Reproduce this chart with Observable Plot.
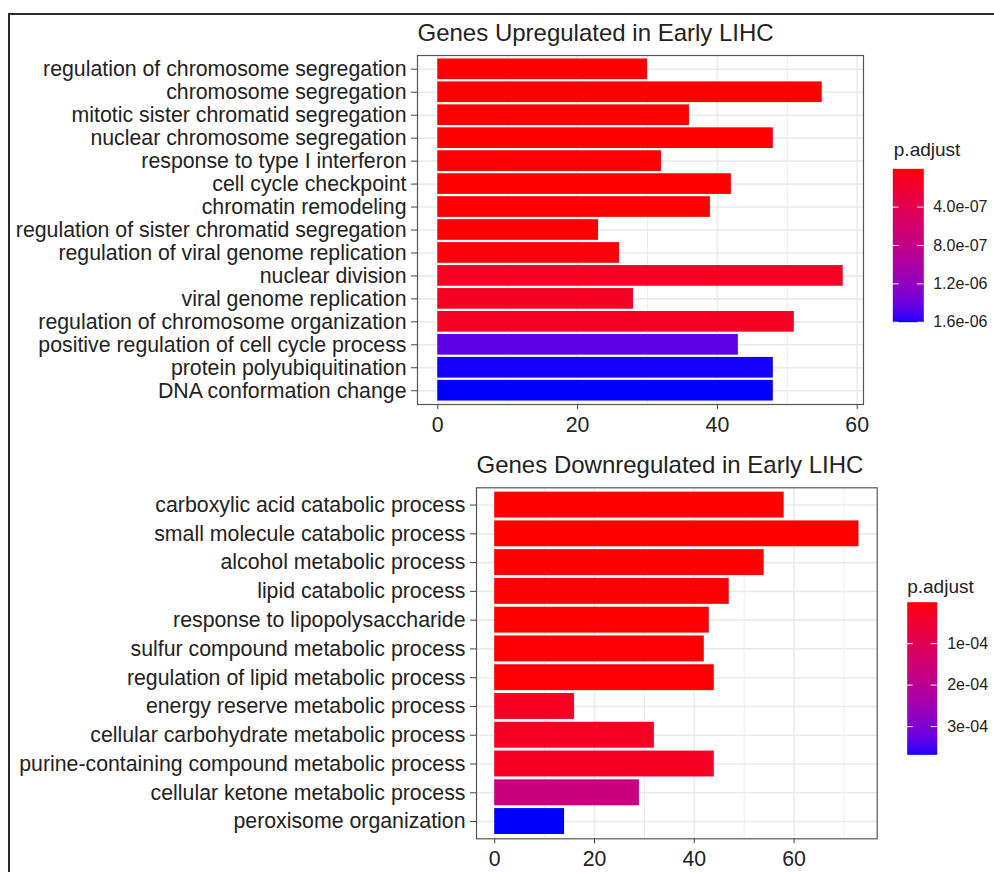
<!DOCTYPE html>
<html>
<head>
<meta charset="utf-8">
<script src="https://cdn.jsdelivr.net/npm/d3@7"></script>
<script src="https://cdn.jsdelivr.net/npm/@observablehq/plot@0.6"></script>
<style>
  html, body { margin: 0; padding: 0; background: white; }
  #wrap { position: relative; width: 994px; height: 872px; overflow: hidden; background: white;
          font-family: 'Liberation Sans', Arial, sans-serif; }
  #frame { position: absolute; left: 8px; top: 13px; width: 1000px; height: 900px;
           border-top: 2px solid #2b2b2b; border-left: 2px solid #2b2b2b; }
  .abs { position: absolute; }
</style>
</head>
<body>
<div id="wrap"><div id="frame"></div></div>
<script>
// ---------------- data ----------------
const upTitle = "Genes Upregulated in Early LIHC";
const upTerms = [
  "regulation of chromosome segregation",
  "chromosome segregation",
  "mitotic sister chromatid segregation",
  "nuclear chromosome segregation",
  "response to type I interferon",
  "cell cycle checkpoint",
  "chromatin remodeling",
  "regulation of sister chromatid segregation",
  "regulation of viral genome replication",
  "nuclear division",
  "viral genome replication",
  "regulation of chromosome organization",
  "positive regulation of cell cycle process",
  "protein polyubiquitination",
  "DNA conformation change"
];
const upCounts = [30, 55, 36, 48, 32, 42, 39, 23, 26, 58, 28, 51, 43, 48, 48];
const upPadj = [3.1e-12, 8.7e-12, 2.4e-11, 5.9e-11, 2.2e-10, 6.8e-10, 1.9e-9, 5.5e-9, 1.4e-8,
                1.25e-7, 1.28e-7, 1.3e-7, 1.45e-6, 1.59e-6, 1.6e-6];
const upXTicks = [0, 20, 40, 60];
const upXMinor = [10, 30, 50];
const upLegendTicks = [4e-7, 8e-7, 1.2e-6, 1.6e-6];
const upLegendLabels = ["4.0e-07", "8.0e-07", "1.2e-06", "1.6e-06"];

const downTitle = "Genes Downregulated in Early LIHC";
const downTerms = [
  "carboxylic acid catabolic process",
  "small molecule catabolic process",
  "alcohol metabolic process",
  "lipid catabolic process",
  "response to lipopolysaccharide",
  "sulfur compound metabolic process",
  "regulation of lipid metabolic process",
  "energy reserve metabolic process",
  "cellular carbohydrate metabolic process",
  "purine-containing compound metabolic process",
  "cellular ketone metabolic process",
  "peroxisome organization"
];
const downCounts = [58, 73, 54, 47, 43, 42, 44, 16, 32, 44, 29, 14];
const downPadj = [2.0e-9, 8.0e-9, 4.5e-8, 1.6e-7, 5.2e-7, 1.1e-6, 2.3e-6,
                  2.7e-5, 2.9e-5, 3.0e-5, 1.66e-4, 3.68e-4];
const downXTicks = [0, 20, 40, 60];
const downXMinor = [10, 30, 50, 70];
const downLegendTicks = [1e-4, 2e-4, 3e-4];
const downLegendLabels = ["1e-04", "2e-04", "3e-04"];

const legendTitle = "p.adjust";

// ---------------- helpers ----------------
const FONT = "'Liberation Sans', Arial, sans-serif";
const wrap = document.getElementById("wrap");

function place(node, left, top) {
  node.classList.add("abs");
  node.style.left = left + "px";
  node.style.top = top + "px";
  wrap.appendChild(node);
}

function barPanel({title, terms, counts, padj, ticks, minor, width, height, mt, mr, mb, ml}) {
  const rows = terms.map((t, i) => ({term: t, count: counts[i], p: padj[i]}));
  const maxC = d3.max(counts);
  return Plot.plot({
    width, height, marginTop: mt, marginRight: mr, marginBottom: mb, marginLeft: ml,
    style: {background: "transparent", fontFamily: FONT, fontSize: "21.3px", color: "#222", overflow: "visible"},
    x: {domain: [-0.05 * maxC, 1.05 * maxC]},
    y: {domain: terms, paddingInner: 0.1, paddingOuter: 0.15, round: false},
    color: {type: "linear", domain: d3.extent(padj), range: ["red", "blue"], interpolate: "lab"},
    marks: [
      Plot.gridX(minor, {stroke: "#ebebeb", strokeOpacity: 1, strokeWidth: 0.9}),
      Plot.gridX(ticks, {stroke: "#ebebeb", strokeOpacity: 1, strokeWidth: 1.6}),
      Plot.gridY({stroke: "#ebebeb", strokeOpacity: 1, strokeWidth: 1.6}),
      Plot.barX(rows, {x: "count", y: "term", fill: "p"}),
      Plot.frame({stroke: "#555", strokeWidth: 1.2}),
      Plot.axisX(ticks, {tickSize: 5, tickPadding: 7, stroke: "#444", label: null}),
      Plot.axisY({tickSize: 6, tickPadding: 5, stroke: "#444", label: null}),
      Plot.text([title], {frameAnchor: "top-left", dy: -22, textAnchor: "start",
                          lineAnchor: "middle", fontSize: 24, fill: "#222"})
    ]
  });
}

function colorLegend({padj, ticks, labels, width, height, mt, mr, mb, ml, titleDy, titleDx, labelDx}) {
  const [lo, hi] = d3.extent(padj);
  return Plot.plot({
    width, height, marginTop: mt, marginRight: mr, marginBottom: mb, marginLeft: ml,
    style: {background: "transparent", fontFamily: FONT, color: "#222", overflow: "visible"},
    x: {domain: [0, 1], axis: null},
    y: {domain: [lo, hi], reverse: true, axis: null},
    color: {type: "linear", domain: [lo, hi], range: ["red", "blue"], interpolate: "lab"},
    marks: [
      Plot.raster({fill: (x, y) => y, x1: 0, x2: 1, y1: lo, y2: hi}),
      Plot.ruleY(ticks, {y: d => d, x1: 0, x2: 0.2, stroke: "white", strokeWidth: 1}),
      Plot.ruleY(ticks, {y: d => d, x1: 0.8, x2: 1, stroke: "white", strokeWidth: 1}),
      Plot.text(ticks, {y: d => d, x: 1, dx: labelDx, text: (d, i) => labels[i],
                        textAnchor: "start", fontSize: 16, fill: "#222"}),
      Plot.text([legendTitle], {frameAnchor: "top-left", dx: titleDx, dy: titleDy,
                                textAnchor: "start", lineAnchor: "middle", fontSize: 19, fill: "#222"})
    ]
  });
}

// ---------------- top panel ----------------
place(barPanel({
  title: upTitle, terms: upTerms, counts: upCounts, padj: upPadj,
  ticks: upXTicks, minor: upXMinor,
  width: 880, height: 440, mt: 55, mr: 17, mb: 36, ml: 417
}), 0, 0);

place(colorLegend({
  padj: upPadj, ticks: upLegendTicks, labels: upLegendLabels,
  width: 124, height: 220, mt: 48.3, mr: 70.7, mb: 18.3, ml: 22.3,
  titleDy: -19, titleDx: 1, labelDx: 9.4
}), 870, 120);

// ---------------- bottom panel ----------------
place(barPanel({
  title: downTitle, terms: downTerms, counts: downCounts, padj: downPadj,
  ticks: downXTicks, minor: downXMinor,
  width: 890, height: 432, mt: 47.3, mr: 13.3, mb: 33.7, ml: 476
}), 0, 440);

place(colorLegend({
  padj: downPadj, ticks: downLegendTicks, labels: downLegendLabels,
  width: 110, height: 210, mt: 41.7, mr: 57.3, mb: 15.7, ml: 22.7,
  titleDy: -15, titleDx: 0, labelDx: 10
}), 884, 560);
</script>
</body>
</html>
